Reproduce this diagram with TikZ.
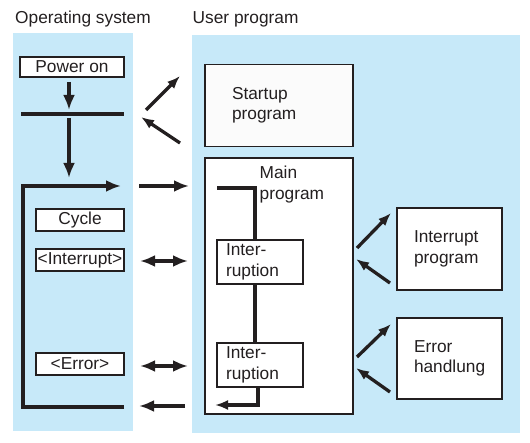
\documentclass[tikz,border=0pt]{standalone}
\usepackage{fontspec}
\setmainfont{Liberation Sans}
\usetikzlibrary{arrows.meta}
\definecolor{panel}{RGB}{199,233,249}
\definecolor{ink}{RGB}{35,31,32}
\definecolor{paper}{RGB}{251,251,251}
\begin{document}
\begin{tikzpicture}[x=1pt,y=-1pt,
  every node/.style={font=\fontsize{17.3}{20.5}\selectfont, text=ink},
  panelbox/.style={fill=panel, draw=none, inner sep=0pt, outer sep=0pt},
  box/.style={draw=ink, line width=1.2pt, fill=white, inner sep=0pt},
  thickline/.style={line width=4pt, draw=ink},
  medline/.style={line width=3.3pt, draw=ink},
  arr/.style={thickline, -{Latex[length=15pt,width=12pt]}},
  darr/.style={thickline, {Latex[length=15pt,width=12pt]}-{Latex[length=15pt,width=12pt]}},
  sarr/.style={medline, -{Latex[length=13pt,width=10pt]}},
]
\useasboundingbox (0,0) rectangle (530,443);

% panels
\node[panelbox, minimum width=120pt, minimum height=398pt] (os) at (73,232) {};
\node[panelbox, minimum width=328pt, minimum height=398pt] (up) at (356,234) {};

% titles
\node[anchor=base west, inner sep=0pt] (ostitle) at (15,23.5) {Operating system};
\node[anchor=base west, inner sep=0pt] (uptitle) at (192.5,23.5) {User program};

% operating system boxes
\node[box, minimum width=104pt, minimum height=20pt] (pwr) at (72,67) {Power on};
\node[box, minimum width=88pt, minimum height=22pt] (cyc) at (80,220) {Cycle};
\node[box, minimum width=88pt, minimum height=22pt] (intr) at (80,260) {<Interrupt>};
\node[box, minimum width=88pt, minimum height=22pt] (err) at (80,364) {<Error>};

% operating system flow
\coordinate (barL) at (21,114);
\coordinate (barR) at (124,114);
\draw[thickline] (barL) -- (barR);
\coordinate (p1) at (69,82);
\coordinate (p2) at (69,110);
\draw[arr] (p1) -- (p2);
\coordinate (p3) at (69,118);
\coordinate (p4) at (69,178);
\draw[arr] (p3) -- (p4);
\coordinate (loopEnd) at (124,407);
\coordinate (loopBL) at (22.5,407);
\coordinate (loopTL) at (22.5,186);
\coordinate (loopTip) at (121,186);
\draw[thickline, -{Latex[length=15pt,width=12pt]}] (loopEnd) -- (loopBL) -- (loopTL) -- (loopTip);

% user program boxes
\node[box, fill=paper, minimum width=148pt, minimum height=82pt, text width=94pt, inner xsep=27pt, align=left] (start) at (279,105.5) {Startup\\program};
\node[box, minimum width=148pt, minimum height=256pt] (main) at (279,286) {};
\node[anchor=north west, inner sep=0pt, align=left] (mainlbl) at (259.5,166) {Main\\program};
\node[box, minimum width=86pt, minimum height=44pt, text width=68pt, inner xsep=9pt, align=left] (ir1) at (260,262) {Inter-\\ruption};
\node[box, minimum width=86pt, minimum height=44pt, text width=68pt, inner xsep=9pt, align=left] (ir2) at (260,365) {Inter-\\ruption};
\node[box, minimum width=105pt, minimum height=82pt, text width=71pt, inner xsep=17pt, align=left] (iprog) at (449.5,249) {Interrupt\\program};
\node[box, minimum width=105pt, minimum height=81pt, text width=71pt, inner xsep=17pt, align=left] (ehand) at (449.5,358.5) {Error\\handlung};

% main program flow
\coordinate (m1) at (217,188);
\coordinate (m2) at (255,188);
\draw[medline] (m1) -- (m2) -- (ir1.north -| m2);
\draw[medline] (ir1.south -| m2) -- (ir2.north -| m2);
\coordinate (m3) at (258,405);
\coordinate (m4) at (215,405);
\draw[medline, -{Latex[length=13pt,width=10pt]}] (ir2.south -| m3) -- (m3) -- (m4);

% arrows between panels
\coordinate (s1a) at (146,110); \coordinate (s1b) at (180,76);
\draw[sarr] (s1a) -- (s1b);
\coordinate (s2a) at (180,143); \coordinate (s2b) at (141,117);
\draw[sarr] (s2a) -- (s2b);
\coordinate (c1a) at (139,186); \coordinate (c1b) at (189,186);
\draw[arr] (c1a) -- (c1b);
\coordinate (c2a) at (140,261); \coordinate (c2b) at (188,261);
\draw[darr] (c2a) -- (c2b);
\coordinate (c3a) at (140,366); \coordinate (c3b) at (188,366);
\draw[darr] (c3a) -- (c3b);
\coordinate (c4a) at (185,406); \coordinate (c4b) at (139,406);
\draw[arr] (c4a) -- (c4b);

% arrows to interrupt / error programs
\coordinate (i1a) at (357,248); \coordinate (i1b) at (391,213);
\draw[sarr] (i1a) -- (i1b);
\coordinate (i2a) at (390,283); \coordinate (i2b) at (356,259);
\draw[sarr] (i2a) -- (i2b);
\coordinate (e1a) at (357,357); \coordinate (e1b) at (391,324);
\draw[sarr] (e1a) -- (e1b);
\coordinate (e2a) at (390,392); \coordinate (e2b) at (356,368);
\draw[sarr] (e2a) -- (e2b);
\end{tikzpicture}
\end{document}
